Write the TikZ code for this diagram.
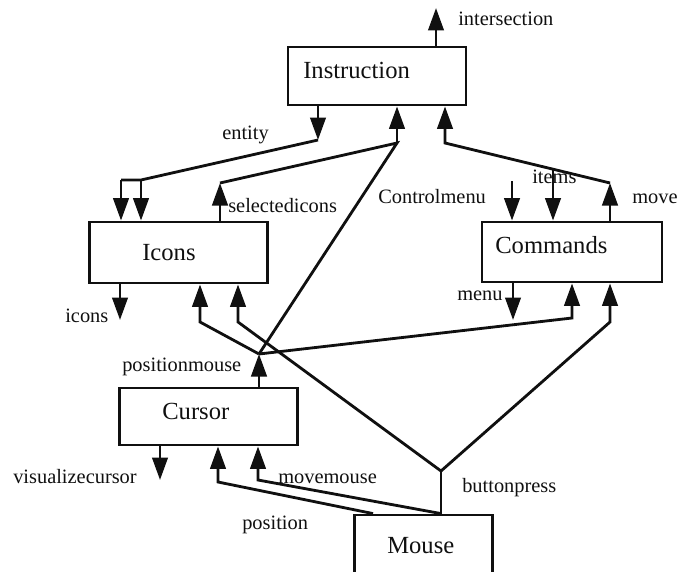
\documentclass[tikz,border=0pt]{standalone}
\usepackage{fontspec}
\setmainfont{Liberation Serif}
\usetikzlibrary{arrows.meta, calc}
\definecolor{ink}{HTML}{101010}
\tikzset{wire/.style={ink, line width=2pt, line join=miter},
  arw/.style={-{Triangle[length=16pt,width=11pt]}},
  box/.style={draw=ink, line width=2pt, inner sep=0pt},
  boxtxt/.style={ink, inner sep=0pt, anchor=base west, font=\fontsize{17.5}{20}\selectfont},
  lbl/.style={ink, inner sep=0pt, anchor=base west, font=\fontsize{14.5}{17}\selectfont}}

\begin{document}
\begin{tikzpicture}[x=0.025cm, y=-0.025cm]
  \useasboundingbox (0,0) rectangle (681,571);
  % boxes
  \node[box, minimum width=4.45cm, minimum height=1.45cm] (instr) at (377,76) {};
  \node[box, minimum width=4.43cm, minimum height=1.525cm] (icons) at (178.5,252.5) {};
  \node[box, minimum width=4.5cm, minimum height=1.5cm] (cmds) at (572,252) {};
  \node[box, minimum width=4.43cm, minimum height=1.425cm] (cursor) at (208.5,416.5) {};
  \node[box, minimum width=3.43cm, minimum height=1.75cm] (mouse) at (423.5,550) {};
  \node[boxtxt] (instrt) at (303,79) {Instruction};
  \node[boxtxt] (iconst) at (142,260) {Icons};
  \node[boxtxt] (cmdst) at (495,253) {Commands};
  \node[boxtxt] (cursort) at (162,419) {Cursor};
  \node[boxtxt] (mouset) at (387,553) {Mouse};
  % junctions and free ends
  \coordinate (isec) at (436,8);   \coordinate (entj) at (318,140);
  \coordinate (entr) at (141,180); \coordinate (entl) at (121,180);
  \coordinate (selj) at (220,183); \coordinate (insj) at (397,143);
  \coordinate (movj) at (445,143); \coordinate (movt) at (610,183);
  \coordinate (itmj) at (553,169); \coordinate (ctrl) at (512,181);
  \coordinate (menu) at (513,320); \coordinate (icno) at (120,320);
  \coordinate (pmj) at (259,354);  \coordinate (bpj) at (441,471);
  \coordinate (icpa) at (200,322); \coordinate (icbp) at (238,322);
  \coordinate (cmpa) at (572,318); \coordinate (cmbp) at (610,322);
  \coordinate (vcur) at (160,480); \coordinate (posj) at (218,482);
  \coordinate (mmj) at (258,480);  \coordinate (posm) at (373,515);
  % Instruction
  \draw[wire,arw] (instr.north -| isec) -- (isec);
  \draw[wire,arw] (instr.south -| entj) -- (entj);
  \draw[wire] (entj) -- (entr) -- (entl);
  \foreach \p in {entl,entr}{\draw[wire,arw] (\p) -- (icons.north -| \p);}
  \draw[wire,arw] (icons.north -| selj) -- (selj);
  \draw[wire] (selj) -- (insj) -- (pmj);
  \draw[wire,arw] (insj) -- (instr.south -| insj);
  \draw[wire,arw] (cmds.north -| movt) -- (movt);
  \draw[wire,arw] (movt) -- (movj) -- (instr.south -| movj);
  % Commands
  \foreach \p in {itmj,ctrl}{\draw[wire,arw] (\p) -- (cmds.north -| \p);}
  \draw[wire,arw] (cmds.south -| menu) -- (menu);
  \draw[wire,arw] (pmj) -- (cmpa) -- (cmds.south -| cmpa);
  \draw[wire,arw] (bpj) -- (cmbp) -- (cmds.south -| cmbp);
  % Icons
  \draw[wire,arw] (icons.south -| icno) -- (icno);
  \draw[wire,arw] (pmj) -- (icpa) -- (icons.south -| icpa);
  \draw[wire,arw] (bpj) -- (icbp) -- (icons.south -| icbp);
  % Cursor and Mouse
  \draw[wire,arw] (cursor.north -| pmj) -- (pmj);
  \draw[wire,arw] (cursor.south -| vcur) -- (vcur);
  \draw[wire,arw] (mouse.north -| posm) -- (posj) -- (cursor.south -| posj);
  \draw[wire,arw] (mouse.north -| bpj) -- (mmj) -- (cursor.south -| mmj);
  \draw[wire] (mouse.north -| bpj) -- (bpj);
  % labels
  \node[lbl] (lbisec) at (458,26) {intersection};
  \node[lbl] (lbent) at (222,139) {entity};
  \node[lbl] (lbsel) at (228,212) {selectedicons};
  \node[lbl] (lbctrl) at (378,203) {Controlmenu};
  \node[lbl] (lbitm) at (532,183) {items};
  \node[lbl] (lbmove) at (632,203) {move};
  \node[lbl] (lbmenu) at (457,300) {menu};
  \node[lbl] (lbicn) at (65,322) {icons};
  \node[lbl] (lbpm) at (122,371) {positionmouse};
  \node[lbl] (lbvc) at (13,483) {visualizecursor};
  \node[lbl] (lbmm) at (278,483) {movemouse};
  \node[lbl] (lbpos) at (242,529) {position};
  \node[lbl] (lbbp) at (462,492) {buttonpress};
\end{tikzpicture}
\end{document}
